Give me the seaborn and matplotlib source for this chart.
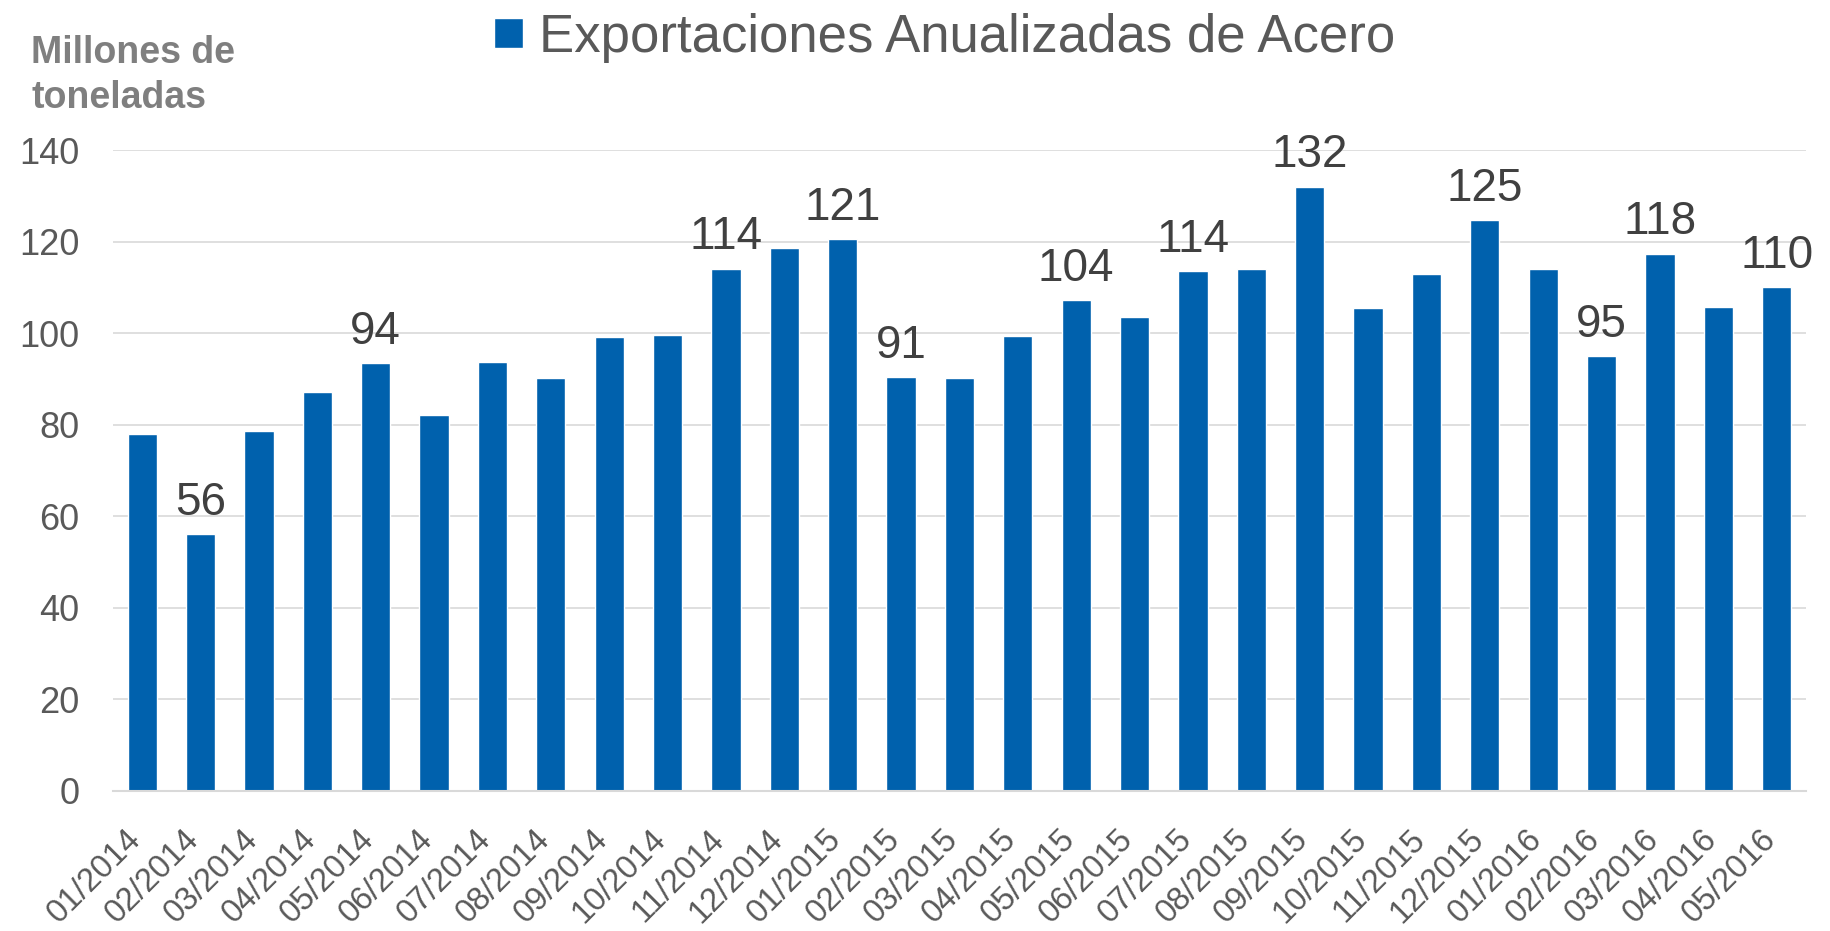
import matplotlib.pyplot as plt
import pandas as pd
import seaborn as sns

meses = [
    "01/2014", "02/2014", "03/2014", "04/2014", "05/2014", "06/2014",
    "07/2014", "08/2014", "09/2014", "10/2014", "11/2014", "12/2014",
    "01/2015", "02/2015", "03/2015", "04/2015", "05/2015", "06/2015",
    "07/2015", "08/2015", "09/2015", "10/2015", "11/2015", "12/2015",
    "01/2016", "02/2016", "03/2016", "04/2016", "05/2016",
]
exportaciones = [
    78.0, 56.1, 78.6, 87.2, 93.4, 82.2,
    93.6, 90.1, 99.2, 99.6, 114.1, 118.6,
    120.5, 90.4, 90.2, 99.3, 107.2, 103.6,
    113.6, 114.1, 132.0, 105.5, 112.9, 124.7,
    114.1, 95.0, 117.4, 105.8, 110.0,
]
# etiquetas de datos tal como aparecen en el grafico original
etiquetas = [
    None, "56", None, None, "94", None,
    None, None, None, None, "114", None,
    "121", "91", None, None, "104", None,
    "114", None, "132", None, None, "125",
    None, "95", "118", None, "110",
]

AZUL = "#0061AD"
GRIS_TEXTO = "#595959"
GRIS_LINEA = "#D9D9D9"

df = pd.DataFrame({"mes": meses, "exportaciones": exportaciones})

sns.set_style("white")
plt.rcParams["font.family"] = ["Liberation Sans", "DejaVu Sans"]

fig, ax = plt.subplots(figsize=(18.31, 9.31), dpi=100)
fig.subplots_adjust(left=0.0617, right=0.9863, bottom=0.1509, top=0.8386)

sns.barplot(data=df, x="mes", y="exportaciones", color=AZUL, saturation=1,
            width=0.5, label="Exportaciones Anualizadas de Acero", ax=ax)
if ax.get_legend() is not None:
    ax.get_legend().remove()

for barra, texto in zip(ax.patches, etiquetas):
    if texto:
        ax.annotate(texto, (barra.get_x() + barra.get_width() / 2, barra.get_height()),
                    xytext=(0, 14), textcoords="offset points",
                    ha="center", va="baseline", fontsize=33, color="#404040",
                    annotation_clip=False)

ax.set_ylim(0, 140)
ax.set_yticks(range(0, 141, 20))
ax.set_xlabel("")
ax.set_ylabel("")
ax.yaxis.grid(True, color=GRIS_LINEA, linewidth=1.2)
ax.set_axisbelow(True)
for lado in ["left", "top", "right"]:
    ax.spines[lado].set_visible(False)
ax.spines["bottom"].set_color(GRIS_LINEA)
ax.spines["bottom"].set_linewidth(1.5)

ax.tick_params(axis="y", length=0, pad=24, labelsize=26, labelcolor=GRIS_TEXTO)
ax.tick_params(axis="x", length=0, pad=36, labelsize=23.5, labelcolor=GRIS_TEXTO)
plt.setp(ax.get_xticklabels(), rotation=45, ha="right", va="baseline",
         rotation_mode="anchor")

# titulo del eje y, dos lineas en la esquina superior izquierda
fig.text(31.5 / 1831, 1 - 63.3 / 931, "Millones de", ha="left", va="baseline",
         fontsize=27, weight="bold", color="#7F7F7F")
fig.text(31.5 / 1831, 1 - 108 / 931, "toneladas", ha="left", va="baseline",
         fontsize=27, weight="bold", color="#7F7F7F")

handles, labels = ax.get_legend_handles_labels()
fig.legend(handles, labels, loc="center", bbox_to_anchor=(0.516, 0.959),
           frameon=False, fontsize=38, handlelength=0.55, handleheight=0.5,
           handletextpad=0.3, borderpad=0, labelcolor=GRIS_TEXTO)

fig.savefig("out.png", dpi=100)
plt.close()
